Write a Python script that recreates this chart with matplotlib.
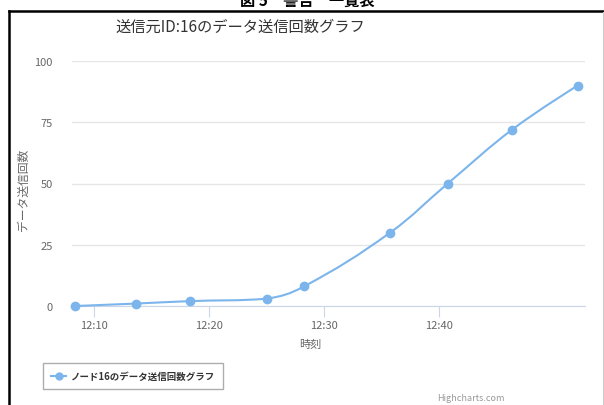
import matplotlib
matplotlib.use('Agg')
import matplotlib.pyplot as plt
import matplotlib.dates as mdates
from matplotlib.path import Path
from matplotlib.patches import PathPatch
from matplotlib.lines import Line2D
from datetime import datetime

plt.rcParams['font.family'] = ['Noto Sans CJK JP', 'DejaVu Sans']

# data
times = ['12:08:24', '12:13:42', '12:18:24', '12:25:06', '12:28:18',
         '12:35:48', '12:40:48', '12:46:24', '12:52:06']
counts = [0, 1, 2, 3, 8, 30, 50, 72, 90]
y_ticks = [0, 25, 50, 75, 100]
x_ticks = ['12:10', '12:20', '12:30', '12:40']

title = '送信元ID:16のデータ送信回数グラフ'
series_name = 'ノード16のデータ送信回数グラフ'
y_label = 'データ送信回数'
x_label = '時刻'
caption = '図 5　警告　一覧表'

LINE = '#7cb5ec'


def to_num(t):
    return mdates.date2num(datetime.strptime('2017-01-01 ' + t, '%Y-%m-%d %H:%M:%S'))


def spline_path(xs, ys, smoothing=1.5):
    # highcharts style spline: cubic bezier with control points per point
    verts = [(xs[0], ys[0])]
    codes = [Path.MOVETO]
    n = len(xs)
    conts = []
    for i in range(n):
        if i == 0 or i == n - 1:
            conts.append(None)
            continue
        d = smoothing + 1
        lx = (smoothing * xs[i] + xs[i - 1]) / d
        ly = (smoothing * ys[i] + ys[i - 1]) / d
        rx = (smoothing * xs[i] + xs[i + 1]) / d
        ry = (smoothing * ys[i] + ys[i + 1]) / d
        corr = ((ry - ly) * (rx - xs[i])) / (rx - lx) + ys[i] - ry
        ly += corr
        ry += corr
        if ly > ys[i - 1] and ly > ys[i]:
            ly = max(ys[i - 1], ys[i]); ry = 2 * ys[i] - ly
        elif ly < ys[i - 1] and ly < ys[i]:
            ly = min(ys[i - 1], ys[i]); ry = 2 * ys[i] - ly
        if ry > ys[i + 1] and ry > ys[i]:
            ry = max(ys[i + 1], ys[i]); ly = 2 * ys[i] - ry
        elif ry < ys[i + 1] and ry < ys[i]:
            ry = min(ys[i + 1], ys[i]); ly = 2 * ys[i] - ry
        conts.append(((lx, ly), (rx, ry)))
    for i in range(1, n):
        c1 = conts[i - 1][1] if conts[i - 1] else (xs[i - 1], ys[i - 1])
        c2 = conts[i][0] if conts[i] else (xs[i], ys[i])
        verts += [c1, c2, (xs[i], ys[i])]
        codes += [Path.CURVE4] * 3
    return Path(verts, codes)


xs = [to_num(t) for t in times]
fig = plt.figure(figsize=(6.04, 4.06), dpi=100)
ax = fig.add_axes([72 / 604, 1 - 307 / 406, 513 / 604, 245 / 406])

ax.add_patch(PathPatch(spline_path(xs, counts), fill=False, edgecolor=LINE,
                       lw=1.5, clip_on=False, zorder=3))
ax.plot(xs, counts, 'o', color=LINE, ms=6, clip_on=False, zorder=4)

ax.set_xlim(to_num('12:08:07'), to_num('12:52:44'))
ax.set_ylim(0, 100)
ax.set_yticks(y_ticks)
ax.set_xticks([to_num(t + ':00') for t in x_ticks])
ax.set_xticklabels(x_ticks)
ax.grid(axis='y', color='#e6e6e6', lw=1)
ax.set_axisbelow(True)
for s in ['top', 'right', 'left']:
    ax.spines[s].set_visible(False)
ax.spines['bottom'].set_color('#ccd6eb')
ax.tick_params(axis='y', length=0, pad=14, labelsize=8, labelcolor='#666666')
ax.tick_params(axis='x', length=8, color='#ccd6eb', pad=2, labelsize=8,
               labelcolor='#666666')

ax.set_ylabel(y_label, fontsize=8.5, color='#666666')
ax.yaxis.set_label_coords(-(72 - 30) / 513, 0.48)
fig.text(310 / 604, 1 - 345 / 406, x_label, fontsize=8, color='#666666',
         ha='center', va='center')
fig.text(240 / 604, 1 - 27 / 406, title, fontsize=11, color='#333333',
         ha='center', va='center')
fig.text(307 / 604, 1 - 1 / 406, caption, fontsize=11, fontweight='bold',
         ha='center', va='center')

h = Line2D([], [], color=LINE, marker='o', ms=5, lw=1.5)
leg = fig.legend([h], [series_name], loc='center left',
                 bbox_to_anchor=(43 / 604, 1 - 377 / 406), borderaxespad=0,
                 prop={'size': 6.8, 'weight': 'bold'},
                 frameon=True, fancybox=False, edgecolor='#999999',
                 handlelength=1.6, handletextpad=0.5, borderpad=0.85)
leg.get_frame().set_linewidth(1)
for t in leg.get_texts():
    t.set_color('#333333')

fig.text(505 / 604, 1 - 399 / 406, 'Highcharts.com', fontsize=6.5,
         color='#999999', ha='right', va='center')

# black frame around the screenshot
fig.add_artist(Line2D([9 / 604, 9 / 604], [0, 1 - 12 / 406], color='black',
                      lw=1.8, transform=fig.transFigure))
fig.add_artist(Line2D([9 / 604, 1], [1 - 12 / 406, 1 - 12 / 406], color='black',
                      lw=1.8, transform=fig.transFigure))
fig.add_artist(Line2D([603 / 604, 603 / 604], [0, 1 - 13 / 406], color='#cccccc',
                      lw=0.8, transform=fig.transFigure))

fig.savefig('out.png', dpi=100)
